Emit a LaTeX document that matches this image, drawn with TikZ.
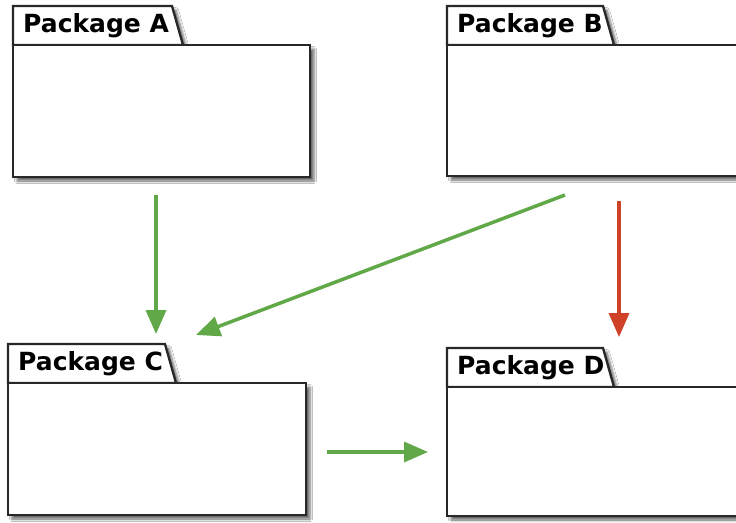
\documentclass[tikz,border=0pt]{standalone}
\usepackage{fontspec}
\setmainfont{DejaVu Sans}
\usetikzlibrary{arrows.meta,shadows.blur}
\definecolor{depgreen}{RGB}{96,168,72}
\definecolor{depred}{RGB}{208,66,40}
\definecolor{pkgline}{RGB}{40,40,40}
\tikzset{
  pkgshadow/.style={blur shadow={shadow xshift=4pt,shadow yshift=-4pt,shadow blur radius=2.5pt,shadow opacity=60}},
  pkgtab/.style={draw=pkgline,line width=2.3pt,fill=white,line join=miter,pkgshadow},
  pkgbody/.style={draw=pkgline,line width=2.3pt,fill=white,pkgshadow,inner sep=0pt,outer sep=0pt,anchor=north west},
  pkglabel/.style={anchor=base west,inner sep=0pt,font=\fontsize{25}{29}\selectfont\bfseries},
  dep/.style={line width=3.5pt,-{Triangle[length=24pt,width=20pt]}},
}
\newcommand\pkgdraw[8]{%
  % #1 name, #2 label, #3 left, #4 tab top, #5 tab top-right x, #6 body top, #7 body right, #8 body bottom
  \path[pkgtab] (#3,#6) -- (#3,#4) -- (#5,#4) -- ({#5+11},#6) -- cycle;
  \node[pkgbody,minimum width={(#7-#3)*1pt},minimum height={(#8-#6)*1pt}] (#1) at (#3,#6) {};
  \node[pkglabel] (#1label) at ({#3+10},{#4+26}) {#2};
}
\begin{document}
\begin{tikzpicture}[x=1pt,y=-1pt]
\useasboundingbox[fill=white] (0,0) rectangle (736,522);
\pkgdraw{A}{Package A}{13}{6}{172}{45}{310}{177}
\pkgdraw{B}{Package B}{447}{6}{603}{45}{760}{176}
\pkgdraw{C}{Package C}{8}{344}{165}{383}{306}{515}
\pkgdraw{D}{Package D}{447}{348}{603}{387}{760}{516}
\coordinate (a1) at (156,195);
\coordinate (c1) at (156,334);
\coordinate (b1) at (565,195);
\coordinate (c2) at (196,335);
\coordinate (b2) at (619,201);
\coordinate (d1) at (619,337);
\coordinate (c3) at (327,452);
\coordinate (d2) at (428,452);
\draw[dep,depgreen] (a1) -- (c1);
\draw[dep,depgreen] (b1) -- (c2);
\draw[dep,depred] (b2) -- (d1);
\draw[dep,depgreen] (c3) -- (d2);
\end{tikzpicture}
\end{document}
